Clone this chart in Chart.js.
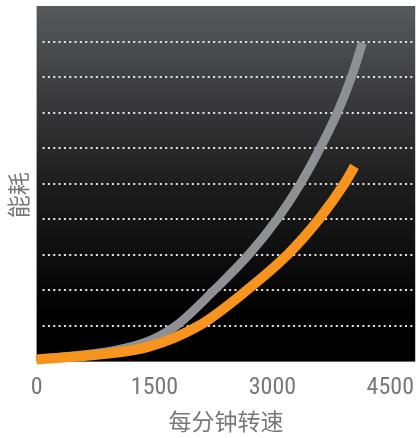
<!DOCTYPE html>
<html>
<head>
<meta charset="utf-8">
<script src="https://cdn.jsdelivr.net/npm/chart.js@4/dist/chart.umd.min.js"></script>
<style>
  html, body { margin: 0; padding: 0; background: #fff; }
  canvas { display: block; }
</style>
</head>
<body>
<canvas id="myChart" width="417" height="438"></canvas>
<script>
const rpmTicks = [0, 1500, 3000, 4500];
const gridLevels = [1, 2, 3, 4, 5, 6, 7, 8, 9];

const grayRpm = [0, 963, 1432, 1775, 2269, 2700, 3068, 3359, 3613, 3828, 4006, 4145];
const grayLoad = [0.06, 0.3, 0.58, 1.01, 2.03, 3.01, 4.03, 5.01, 6.03, 7.01, 8.0, 8.96];

const orangeRpm = [0, 799, 1432, 2066, 2687, 3194, 3600, 3917, 4044];
const orangeLoad = [0.06, 0.20, 0.42, 1.01, 2.03, 3.01, 4.03, 5.01, 5.49];

const grayColor = '#8f9094';
const orangeColor = '#f7941d';
const textColor = '#77787b';

const toPoints = (xs, ys) => xs.map((x, i) => ({x: x, y: ys[i]}));

// gradient background + dotted level lines, drawn under the curves
const backdrop = {
    id: 'backdrop',
    beforeDatasetsDraw(chart) {
        const {ctx, chartArea: a, scales} = chart;
        ctx.save();
        const g = ctx.createLinearGradient(0, a.top, 0, a.bottom);
        g.addColorStop(0, '#58595b');
        g.addColorStop(0.5, '#1d1d1e');
        g.addColorStop(0.88, '#000000');
        g.addColorStop(1, '#000000');
        ctx.fillStyle = g;
        ctx.fillRect(a.left, a.top, a.right - a.left, a.bottom - a.top);

        ctx.strokeStyle = '#e6e6e6';
        ctx.lineWidth = 2;
        ctx.setLineDash([2, 3.33]);
        gridLevels.forEach(v => {
            const y = Math.round(scales.y.getPixelForValue(v));
            ctx.beginPath();
            ctx.moveTo(a.left + 6, y);
            ctx.lineTo(a.right, y);
            ctx.stroke();
        });
        ctx.restore();
    }
};

const ctx = document.getElementById('myChart').getContext('2d');

new Chart(ctx, {
    type: 'line',
    data: {
        datasets: [{
            data: toPoints(orangeRpm, orangeLoad),
            borderColor: orangeColor,
            borderWidth: 10,
            borderCapStyle: 'butt',
            pointRadius: 0,
            fill: false,
            clip: 12,
            cubicInterpolationMode: 'monotone'
        }, {
            data: toPoints(grayRpm, grayLoad),
            borderColor: grayColor,
            borderWidth: 9,
            borderCapStyle: 'butt',
            pointRadius: 0,
            fill: false,
            clip: 12,
            cubicInterpolationMode: 'monotone'
        }]
    },
    options: {
        responsive: false,
        maintainAspectRatio: false,
        animation: false,
        layout: {padding: {top: 6, right: 0, left: 0, bottom: 0}},
        scales: {
            x: {
                type: 'linear',
                min: 0,
                max: 4817,
                grid: {display: false, drawTicks: true, tickLength: 9},
                border: {display: false},
                afterBuildTicks: scale => {
                    scale.ticks = rpmTicks.map(v => ({value: v}));
                },
                ticks: {
                    padding: 3,
                    maxRotation: 0,
                    color: textColor,
                    callback: v => String(v),
                    font: {family: "'Liberation Sans Narrow', 'Roboto Condensed', Roboto, sans-serif", size: 24}
                },
                title: {
                    display: true,
                    text: '每分钟转速',
                    color: textColor,
                    font: {family: "'Noto Sans CJK SC', sans-serif", size: 23},
                    padding: {top: 2, bottom: 3}
                }
            },
            y: {
                min: 0,
                max: 10,
                grid: {display: false, drawTicks: false},
                border: {display: false},
                ticks: {display: false},
                title: {
                    display: true,
                    // trailing ideographic space nudges the label a little lower, as in the original
                    text: '能耗\u3000',
                    color: textColor,
                    font: {family: "'Noto Sans CJK SC', sans-serif", size: 23},
                    padding: {top: 4, bottom: 5}
                }
            }
        },
        plugins: {
            legend: {display: false},
            tooltip: {enabled: false}
        }
    },
    plugins: [backdrop]
});
</script>
</body>
</html>
